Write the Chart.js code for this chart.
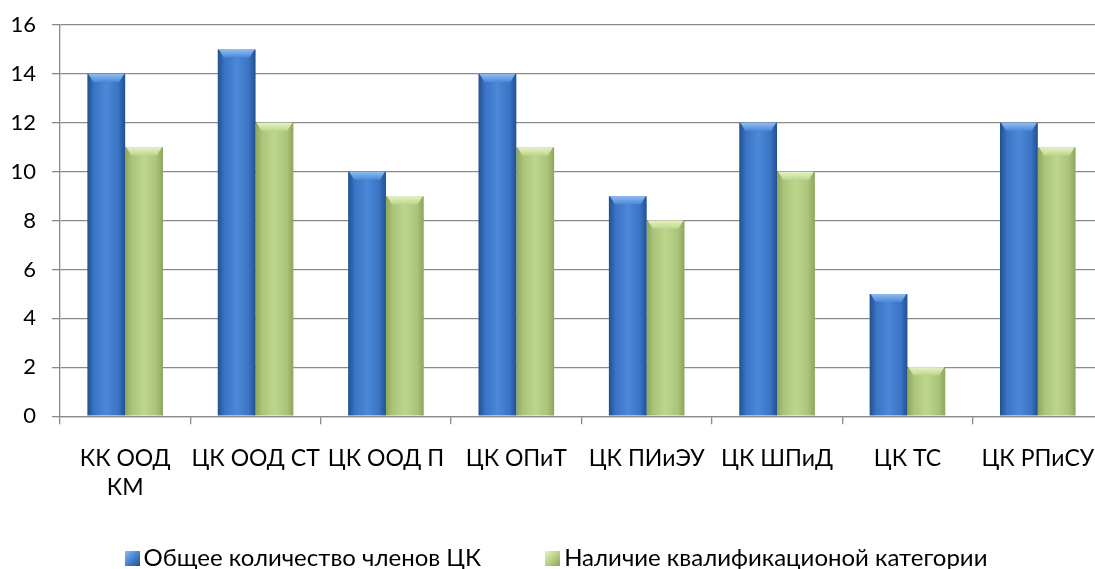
<!DOCTYPE html>
<html>
<head>
<meta charset="utf-8">
<script src="https://cdn.jsdelivr.net/npm/chart.js@4.4.1/dist/chart.umd.min.js"></script>
<style>
  html, body { margin: 0; padding: 0; background: #fff; overflow: hidden; }
  #wrap { position: relative; width: 1112px; height: 569px; }
  #legend {
    position: absolute; left: 0; top: 543px; width: 1112px;
    display: flex; justify-content: center; gap: 64px;
    font-family: Lato, "Open Sans", sans-serif; font-size: 24px; line-height: 28px; color: #000;
  }
  #legend span.item { display: flex; align-items: center; }
  #legend i { display: inline-block; width: 15px; height: 15px; margin-right: 4px; margin-top: 3px; }
</style>
</head>
<body>
<div id="wrap">
  <canvas id="chart" width="1112" height="569"></canvas>
  <div id="legend"></div>
</div>
<script>
// data
const categories = [['КК ООД', 'КМ'], 'ЦК ООД СТ', 'ЦК ООД П', 'ЦК ОПиТ', 'ЦК ПИиЭУ', 'ЦК ШПиД', 'ЦК ТС', 'ЦК РПиСУ'];
const seriesNames = ['Общее количество членов ЦК', 'Наличие квалификационой категории'];
const totalMembers = [14, 15, 10, 14, 9, 12, 5, 12];
const qualified = [11, 12, 9, 11, 8, 10, 2, 11];
const yTicks = [0, 2, 4, 6, 8, 10, 12, 14, 16];

const palettes = [
  { edge: '#22508f', mid: '#3a74c4', center: '#4c88d8', top: '#8fbdf2' },
  { edge: '#8ea65c', mid: '#abc47a', center: '#bcd68d', top: '#e6f2c6' }
];
const catPct = 0.58;

// horizontal shading per bar, computed from the x scale
function barFill(ctx, p) {
  const chart = ctx.chart;
  const xs = chart.scales.x;
  if (!xs || !chart.chartArea) return p.center;
  const catW = xs.width / categories.length;
  const bw = catW * catPct / 2;
  const cx = xs.getPixelForValue(ctx.dataIndex);
  const x0 = cx - bw + ctx.datasetIndex * bw;
  const g = chart.ctx.createLinearGradient(x0, 0, x0 + bw, 0);
  g.addColorStop(0, p.edge);
  g.addColorStop(0.18, p.mid);
  g.addColorStop(0.5, p.center);
  g.addColorStop(0.82, p.mid);
  g.addColorStop(1, p.edge);
  return g;
}

// bevelled cap on top of each bar
const bevel = {
  id: 'bevel',
  afterDatasetsDraw(chart) {
    const c = chart.ctx;
    chart.data.datasets.forEach((ds, di) => {
      const p = palettes[di];
      chart.getDatasetMeta(di).data.forEach(bar => {
        const x0 = bar.x - bar.width / 2, x1 = bar.x + bar.width / 2, y = bar.y;
        const g = c.createLinearGradient(0, y, 0, y + 8);
        g.addColorStop(0, p.top);
        g.addColorStop(1, p.center);
        c.save();
        c.fillStyle = g;
        c.beginPath();
        c.moveTo(x0 + 1, y);
        c.lineTo(x1 - 1, y);
        c.lineTo(x1 - 6, y + 8);
        c.lineTo(x0 + 6, y + 8);
        c.closePath();
        c.fill();
        c.restore();
      });
    });
  }
};

const tickFont = { family: 'Lato, "Open Sans", sans-serif', size: 22 };
const catFont = { family: 'Lato, "Open Sans", sans-serif', size: 23, lineHeight: 1.3 };

new Chart(document.getElementById('chart'), {
  type: 'bar',
  data: {
    labels: categories,
    datasets: [
      { label: seriesNames[0], data: totalMembers, backgroundColor: c => barFill(c, palettes[0]) },
      { label: seriesNames[1], data: qualified, backgroundColor: c => barFill(c, palettes[1]) }
    ]
  },
  options: {
    responsive: false,
    animation: false,
    layout: { padding: { top: 25, right: 9, bottom: 47, left: 0 } },
    datasets: { bar: { categoryPercentage: catPct, barPercentage: 1.0 } },
    plugins: { legend: { display: false }, tooltip: { enabled: false } },
    scales: {
      x: {
        afterFit: s => { s.paddingLeft = 0; s.paddingRight = 0; },
        grid: { offset: true, drawOnChartArea: false, drawTicks: true, tickLength: 8, color: '#8a8a8a', lineWidth: 1.3 },
        border: { color: '#8a8a8a', width: 1.3 },
        ticks: { color: '#000', font: catFont, padding: 19, maxRotation: 0, autoSkip: false }
      },
      y: {
        min: 0, max: 16,
        afterFit: s => { s.width = 60; s.paddingTop = 0; s.paddingBottom = 0; },
        afterBuildTicks: s => { s.ticks = yTicks.map(v => ({ value: v })); },
        grid: { color: '#8a8a8a', lineWidth: 1.3, tickLength: 8 },
        border: { color: '#8a8a8a', width: 1.3 },
        ticks: { color: '#000', font: tickFont, padding: 16 }
      }
    }
  },
  plugins: [bevel]
});

// legend as HTML, centred on the full plot width like the original
const legend = document.getElementById('legend');
seriesNames.forEach((name, i) => {
  const p = palettes[i];
  const item = document.createElement('span');
  item.className = 'item';
  const box = document.createElement('i');
  box.style.background = 'linear-gradient(135deg,' + p.top + ',' + p.center + ' 45%,' + p.edge + ')';
  item.appendChild(box);
  item.appendChild(document.createTextNode(name));
  legend.appendChild(item);
});
</script>
</body>
</html>
